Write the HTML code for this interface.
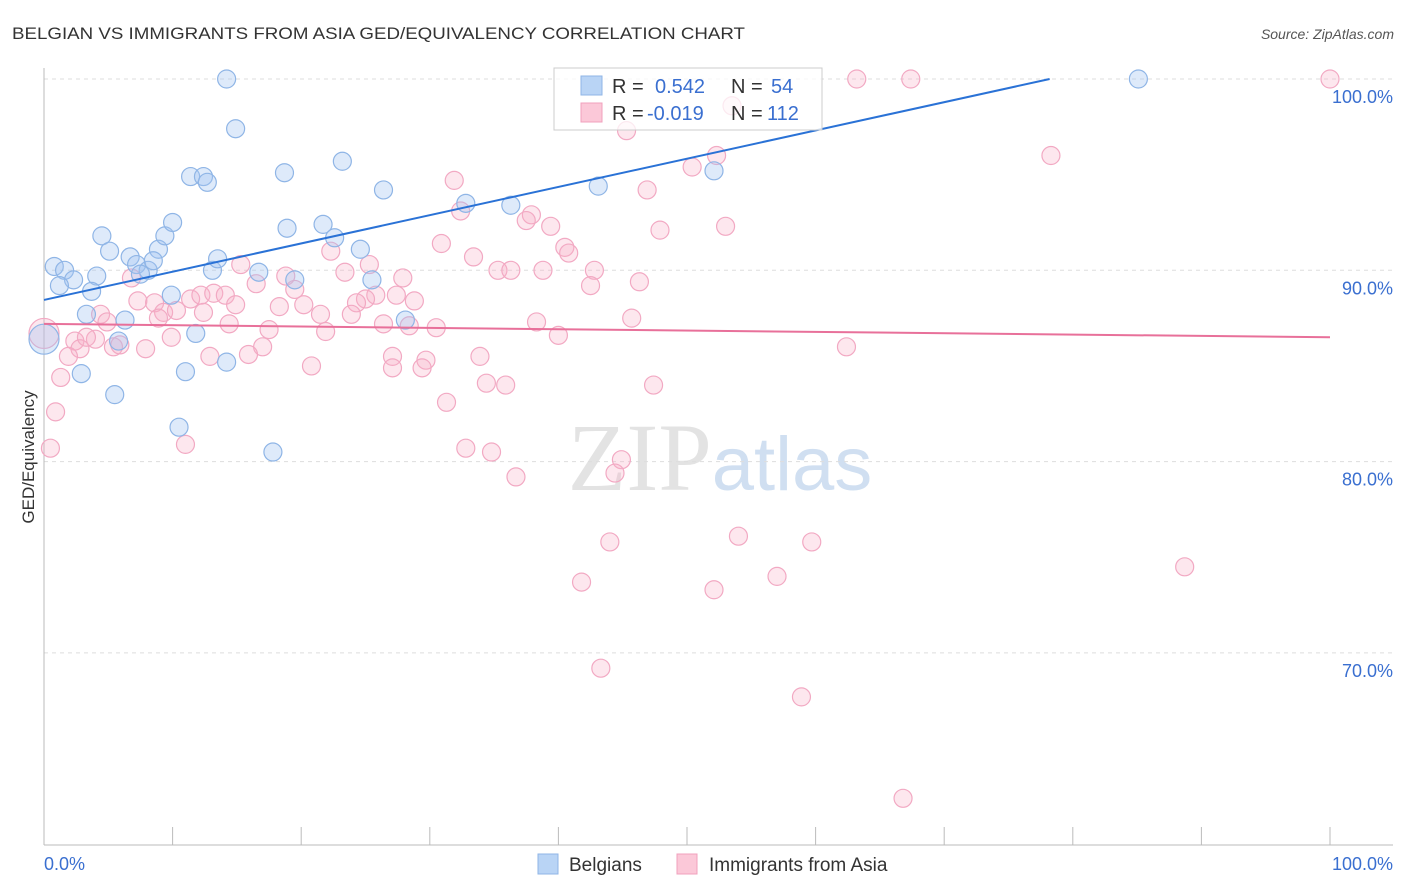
<!DOCTYPE html>
<html><head><meta charset="utf-8"><style>
body{margin:0;background:#fff;font-family:"Liberation Sans",sans-serif;}
svg{display:block}
</style></head><body>
<svg id="chart" width="1406" height="892" viewBox="0 0 1406 892">
<text x="12" y="39" font-size="17" fill="#333" textLength="733" lengthAdjust="spacingAndGlyphs">BELGIAN VS IMMIGRANTS FROM ASIA GED/EQUIVALENCY CORRELATION CHART</text>
<text x="1394" y="39" font-size="14" fill="#555" text-anchor="end" font-style="italic">Source: ZipAtlas.com</text>
<text x="720" y="490" font-size="96" text-anchor="middle" fill="#ddd" font-family="Liberation Serif" opacity="0.8">ZIP<tspan fill="#c5d8ee" font-family="Liberation Sans" font-size="76">atlas</tspan></text>
<g id="grid"></g>
<g id="axes"></g>
<g id="marks"></g>
<text transform="translate(34,457) rotate(-90)" font-size="17" fill="#333" text-anchor="middle">GED/Equivalency</text>
<g>
<rect x="554" y="68" width="268" height="62" fill="#fff" fill-opacity="0.75" stroke="#ccc"/>
<rect x="581" y="76" width="21" height="19" fill="#b9d4f5" stroke="#8fb5e6"/>
<rect x="581" y="103" width="21" height="19" fill="#fbc8d8" stroke="#f0a0bd"/>
<text x="612" y="93" font-size="20" fill="#333">R = <tspan fill="#3a6fd0" x="655">0.542</tspan><tspan x="731" fill="#333">N = </tspan><tspan fill="#3a6fd0" x="771">54</tspan></text>
<text x="612" y="120" font-size="20" fill="#333">R = <tspan fill="#3a6fd0" x="647">-0.019</tspan><tspan x="731" fill="#333">N = </tspan><tspan fill="#3a6fd0" x="767">112</tspan></text>
</g>
<g>
<rect x="538" y="854" width="20" height="20" fill="#b9d4f5" stroke="#8fb5e6"/>
<text x="569" y="871" font-size="19" fill="#333">Belgians</text>
<rect x="677" y="854" width="20" height="20" fill="#fbc8d8" stroke="#f0a0bd"/>
<text x="709" y="871" font-size="19" fill="#333">Immigrants from Asia</text>
</g>
</svg>
<script>
const yTicks=[100,90,80,70];
const yTickLabels=["100.0%","90.0%","80.0%","70.0%"];
const xTicks=[0,10,20,30,40,50,60,70,80,90,100];
const blueX=[14.2,14.9,11.4,12.4,12.7,18.7,23.2,26.4,32.8,36.3,43.1,52.1,85.1,4.5,5.1,6.7,8.9,9.4,10.0,0.8,1.6,4.1,2.3,1.2,3.7,7.2,8.1,7.5,8.5,13.1,13.5,16.7,18.9,21.7,22.6,24.6,25.5,19.5,9.9,3.3,6.3,11.8,5.8,2.9,11.0,14.2,5.5,10.5,17.8,28.1];
const blueY=[100,97.4,94.9,94.9,94.6,95.1,95.7,94.2,93.5,93.4,94.4,95.2,100,91.8,91.0,90.7,91.1,91.8,92.5,90.2,90.0,89.7,89.5,89.2,88.9,90.3,90.0,89.8,90.5,90.0,90.6,89.9,92.2,92.4,91.7,91.1,89.5,89.5,88.7,87.7,87.4,86.7,86.3,84.6,84.7,85.2,83.5,81.8,80.5,87.4];
const pinkX=[63.2,67.4,100,53.5,45.3,52.3,78.3,50.4,31.9,46.9,32.4,37.9,37.5,39.4,47.9,53.0,30.9,22.3,40.5,40.8,33.4,15.3,25.3,6.8,23.4,35.3,36.3,38.8,42.8,46.3,18.8,27.9,42.5,16.5,19.5,25.8,25.0,24.3,27.4,28.8,20.2,18.3,21.5,23.9,11.4,12.2,13.2,14.1,7.3,8.6,9.3,10.3,8.9,4.4,4.9,12.4,14.9,14.4,17.5,21.9,26.4,28.4,30.5,38.3,45.7,40.0,62.4,2.4,2.8,4.0,3.3,5.4,5.9,7.9,9.9,17.0,1.9,1.3,12.9,15.9,20.8,27.1,27.1,29.7,29.4,33.9,34.4,35.9,47.4,31.3,0.9,11.0,0.5,32.8,34.8,44.9,36.7,44.4,44.0,54.0,59.7,41.8,52.1,57.0,88.7,43.3,58.9,66.8];
const pinkY=[100,100,100,98.6,97.3,96.0,96.0,95.4,94.7,94.2,93.1,92.9,92.6,92.3,92.1,92.3,91.4,91.0,91.2,90.9,90.7,90.3,90.3,89.6,89.9,90.0,90.0,90.0,90.0,89.4,89.7,89.6,89.2,89.3,89.0,88.7,88.5,88.3,88.7,88.4,88.2,88.1,87.7,87.7,88.5,88.7,88.8,88.7,88.4,88.3,87.8,87.9,87.5,87.7,87.3,87.8,88.2,87.2,86.9,86.8,87.2,87.1,87.0,87.3,87.5,86.6,86.0,86.3,85.9,86.4,86.5,86.0,86.1,85.9,86.5,86.0,85.5,84.4,85.5,85.6,85.0,85.5,84.9,85.3,84.9,85.5,84.1,84.0,84.0,83.1,82.6,80.9,80.7,80.7,80.5,80.1,79.2,79.4,75.8,76.1,75.8,73.7,73.3,74.0,74.5,69.2,67.7,62.4];
const blueBig=[[0,86.4]];
const pinkBig=[[0,86.7]];
const blueTrend=[[0,88.45],[78.2,100]];
const pinkTrend=[[0,87.2],[100,86.5]];
const NS="http://www.w3.org/2000/svg";
const X0=44,X1=1330,Y100=79,PXPER=19.13;
function sx(v){return X0+(X1-X0)*v/100;}
function sy(v){return Y100+(100-v)*PXPER;}
function mk(tag,attrs,parent){const e=document.createElementNS(NS,tag);for(const k in attrs)e.setAttribute(k,attrs[k]);parent.appendChild(e);return e;}
const grid=document.getElementById('grid'),axes=document.getElementById('axes'),marks=document.getElementById('marks');
yTicks.forEach((t,i)=>{
 const l=mk('line',{x1:X0,x2:1393,y1:sy(t),y2:sy(t),stroke:'#ddd','stroke-dasharray':'4,4'},grid);
 
 
 const tx=mk('text',{x:1393,y:sy(t)+24,'font-size':18,fill:'#3a6fd0','text-anchor':'end'},grid);
 tx.textContent=yTickLabels[i];
 
 
});
let a=mk('line',{x1:X0,x2:X0,y1:68,y2:845,stroke:'#bbb'},axes);


a=mk('line',{x1:X0,x2:1393,y1:845,y2:845,stroke:'#bbb'},axes);


xTicks.forEach(t=>{
 const l=mk('line',{x1:sx(t),x2:sx(t),y1:827,y2:845,stroke:'#bbb'},axes);
 
 
});
let t0=mk('text',{x:44,y:870,'font-size':18,fill:'#3a6fd0'},axes);t0.textContent='0.0%';


let t1=mk('text',{x:1393,y:870,'font-size':18,fill:'#3a6fd0','text-anchor':'end'},axes);t1.textContent='100.0%';


function dots(xs,ys,fill,stroke,name,r){xs.forEach((x,i)=>{
 const c=mk('circle',{cx:sx(x),cy:sy(ys[i]),r:r,fill:fill,stroke:stroke,'stroke-width':1.2},marks);
 
 
});}
dots(pinkX,pinkY,'rgba(248,175,200,0.3)','#f2a9c3','asia-point',9);
dots(pinkBig.map(p=>p[0]),pinkBig.map(p=>p[1]),'rgba(248,175,200,0.3)','#f2a9c3','asia-point-large',15);
dots(blueX,blueY,'rgba(160,196,240,0.35)','#8fb5e6','belgian-point',9);
dots(blueBig.map(p=>p[0]),blueBig.map(p=>p[1]),'rgba(160,196,240,0.35)','#8fb5e6','belgian-point-large',15);
let tl=mk('line',{x1:sx(pinkTrend[0][0]),y1:sy(pinkTrend[0][1]),x2:sx(pinkTrend[1][0]),y2:sy(pinkTrend[1][1]),stroke:'#e8709a','stroke-width':2},marks);


tl=mk('line',{x1:sx(blueTrend[0][0]),y1:sy(blueTrend[0][1]),x2:sx(blueTrend[1][0]),y2:sy(blueTrend[1][1]),stroke:'#2a72d6','stroke-width':2},marks);


</script>
</body></html>
